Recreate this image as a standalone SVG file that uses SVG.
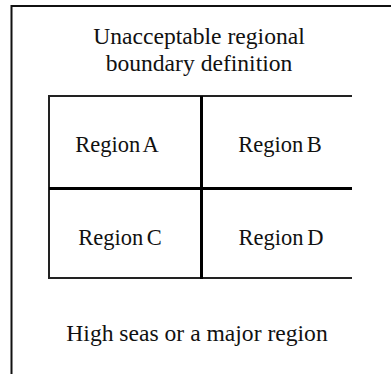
<svg xmlns="http://www.w3.org/2000/svg" width="391" height="374" viewBox="0 0 391 374">
<style>
  text { font-family: "Liberation Serif", "Times New Roman", serif; font-size: 22.5px; fill: #111; text-anchor: middle; }
  .big { font-size: 23.6px; }
  .frame { stroke: #111; stroke-width: 2; fill: none; }
  .thin { stroke: #222; stroke-width: 2; fill: none; }
  .thick { stroke: #000; stroke-width: 3; fill: none; }
</style>
<rect width="391" height="374" fill="#fff"/>
<g id="frame">
  <path class="frame" d="M11.5 374 V6 H391"/>
  <text class="big" x="199" y="44">Unacceptable regional</text>
  <text class="big" x="199" y="71">boundary definition</text>
  <text class="big" x="197" y="341">High seas or a major region</text>
</g>
<g id="connectors">
  <path class="thin" d="M352 96 H49 V278 H352"/>
  <path class="thick" d="M201.5 96 V279"/>
  <path class="thick" d="M49 188.5 H352"/>
</g>
<g id="regionA"><text x="117" y="152" word-spacing="-2">Region A</text></g>
<g id="regionB"><text x="280" y="152" word-spacing="-2">Region B</text></g>
<g id="regionC"><text x="120" y="245" word-spacing="-2">Region C</text></g>
<g id="regionD"><text x="281" y="245" word-spacing="-2">Region D</text></g>
</svg>
